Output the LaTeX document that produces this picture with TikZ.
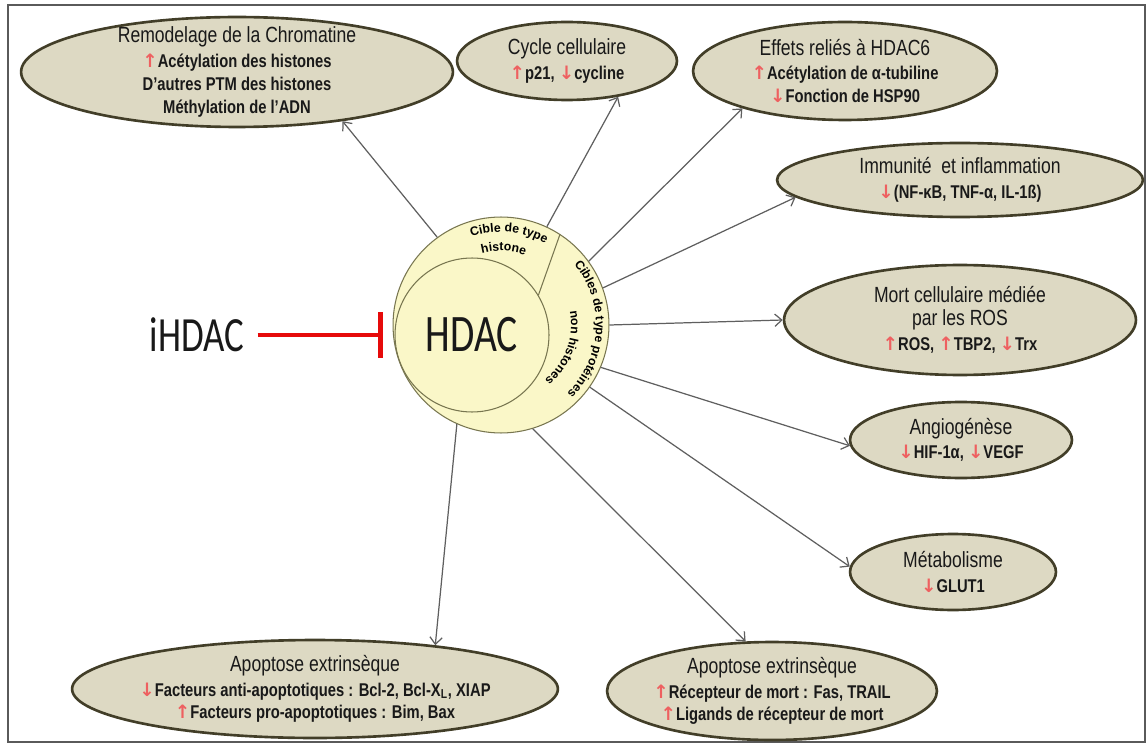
\documentclass[tikz,border=0pt]{standalone}
\usepackage{fontspec}
\setmainfont{Liberation Sans}
\newfontfamily\narrowfont[FakeStretch=0.8]{Liberation Sans}
\newfontfamily\hdacfont[FakeStretch=0.75]{Carlito}
\newfontfamily\symfont{DejaVu Sans}
\usetikzlibrary{shapes.geometric, arrows.meta, decorations.text}

\definecolor{blobfill}{RGB}{221, 217, 195}
\definecolor{blobline}{RGB}{66, 62, 40}
\definecolor{corefill}{RGB}{250, 247, 200}
\definecolor{coreline}{RGB}{120, 118, 80}
\definecolor{connline}{RGB}{95, 95, 95}
\definecolor{arrred}{RGB}{238, 96, 96}
\definecolor{inhred}{RGB}{230, 10, 10}
\definecolor{framegray}{RGB}{90, 90, 90}
\definecolor{inktext}{RGB}{25, 25, 25}

\newcommand{\incr}{{\color{arrred}\symfont ↑}}
\newcommand{\decr}{{\color{arrred}\symfont ↓}}
\newcommand{\blobtitle}[1]{{\mdseries\fontsize{12.5}{13}\selectfont #1}}

\tikzset{
    blob/.style 2 args = {
        ellipse,
        draw           = blobline,
        line width     = 1.5pt,
        fill           = blobfill,
        inner sep      = 0pt,
        minimum width  = #1*0.04cm,
        minimum height = #2*0.04cm
    },
    blobtext/.style = {
        align = center,
        text  = inktext,
        font  = \narrowfont\fontsize{10.5}{13}\selectfont\bfseries
    },
    conn/.style = {
        draw       = connline,
        line width = 0.7pt,
        -{Straight Barb[length=4pt, width=7pt]}
    },
    ringtext/.style = {
        decorate,
        decoration = {text along path, text align = center, text = {#1}}
    }
}

\begin{document}
\begin{tikzpicture}[x=0.02cm, y=0.02cm]
    \useasboundingbox (0,0) rectangle (1148,-746);
    \draw[framegray, line width=1.2pt] (8,-5) rectangle (1145,-742);

    \node[blob={216}{55}] (remod) at (237,-72) {};
    \node[blobtext] (remodt) at (remod) {
        \blobtitle{Remodelage de la Chromatine}\\[1pt]
        \incr Acétylation des histones\\
        D’autres PTM des histones\\
        Méthylation de l’ADN
    };

    \node[blob={110}{39}] (cycle) at (567,-61) {};
    \node[blobtext] (cyclet) at (cycle) {
        \blobtitle{Cycle cellulaire}\\[1pt]
        \incr p21, \decr cycline
    };

    \node[blob={152}{49}] (effets) at (845,-71) {};
    \node[blobtext] (effetst) at (effets) {
        \blobtitle{Effets reliés à HDAC6}\\[1pt]
        \incr Acétylation de α-tubiline\\
        \decr Fonction de HSP90
    };

    \node[blob={183}{37}] (immun) at (960,-180) {};
    \node[blobtext] (immunt) at (immun) {
        \blobtitle{Immunité~ et inflammation}\\[1pt]
        \decr (NF-κB, TNF-α, IL-1ß)
    };

    \node[blob={176}{55}] (mort) at (960,-320) {};
    \node[blobtext] (mortt) at (mort) {
        \blobtitle{Mort cellulaire médiée}\\
        \blobtitle{par les ROS}\\[1pt]
        \incr ROS, \incr TBP2, \decr Trx
    };

    \node[blob={111}{38}] (angio) at (961,-440) {};
    \node[blobtext] (angiot) at (angio) {
        \blobtitle{Angiogénèse}\\[1pt]
        \decr HIF-1α, \decr VEGF
    };

    \node[blob={103}{38}] (metab) at (953,-572) {};
    \node[blobtext] (metabt) at (metab) {
        \blobtitle{Métabolisme}\\[1pt]
        \decr GLUT1
    };

    \node[blob={243}{49}] (apopl) at (315,-689) {};
    \node[blobtext] (apoplt) at (apopl) {
        \blobtitle{Apoptose extrinsèque}\\[1pt]
        \decr Facteurs anti-apoptotiques : Bcl-2, Bcl-X\textsubscript{L}, XIAP\\
        \incr Facteurs pro-apoptotiques : Bim, Bax
    };

    \node[blob={165}{49}] (apopr) at (772,-691) {};
    \node[blobtext] (apoprt) at (apopr) {
        \blobtitle{Apoptose extrinsèque}\\[1pt]
        \incr Récepteur de mort : Fas, TRAIL\\
        \incr Ligands de récepteur de mort
    };

    \node[circle, draw=coreline, fill=corefill, line width=0.6pt, minimum size=4.32cm, inner sep=0pt] (hdac) at (501,-325) {};
    \node[circle, draw=coreline, line width=0.6pt, minimum size=3.08cm, inner sep=0pt,
          text=inktext, font=\hdacfont\fontsize{30}{30}\selectfont] (core) at (472,-335) {HDAC};
    \draw[coreline, line width=0.6pt] (hdac.57) -- (core.31);

    \path[ringtext={|\bfseries\fontsize{7}{8}\selectfont|Cible de type}]
        (hdac.center) ++(140:93) arc[start angle=140, end angle=30, radius=93];
    \path[ringtext={|\bfseries\fontsize{7}{8}\selectfont|histone}]
        (hdac.center) ++(130:74) arc[start angle=130, end angle=46, radius=74];
    \path[ringtext={|\bfseries\fontsize{7}{8}\selectfont|Cibles de type protéines}]
        (hdac.center) ++(60:95) arc[start angle=60, end angle=-66, radius=95];
    \path[ringtext={|\bfseries\fontsize{7}{8}\selectfont|non histones}]
        (hdac.center) ++(40:70) arc[start angle=40, end angle=-80, radius=70];

    \draw[conn] (hdac.126) -- (remod.-25);
    \draw[conn] (hdac.65) -- (cycle.-35);
    \draw[conn] (hdac.36) -- (effets.200);
    \draw[conn] (hdac.20) -- (immun.186);
    \draw[conn] (hdac.0) -- (mort.180);
    \draw[conn] (hdac.-23) -- (angio.183);
    \draw[conn] (hdac.-35) -- (metab.177);
    \draw[conn] (hdac.-73) -- (apopr.118);
    \draw[conn] (hdac.-114) -- (apopl.20);

    \node[inner sep=0pt, text=inktext, font=\hdacfont\fontsize{28}{28}\selectfont] (ihdac) at (197,-335) {iHDAC};
    \coordinate (block) at (383,-335);
    \draw[inhred, line width=2.8pt, shorten <=0.26cm, -{Bar[width=0.92cm]}] (ihdac) -- (block);
\end{tikzpicture}
\end{document}
